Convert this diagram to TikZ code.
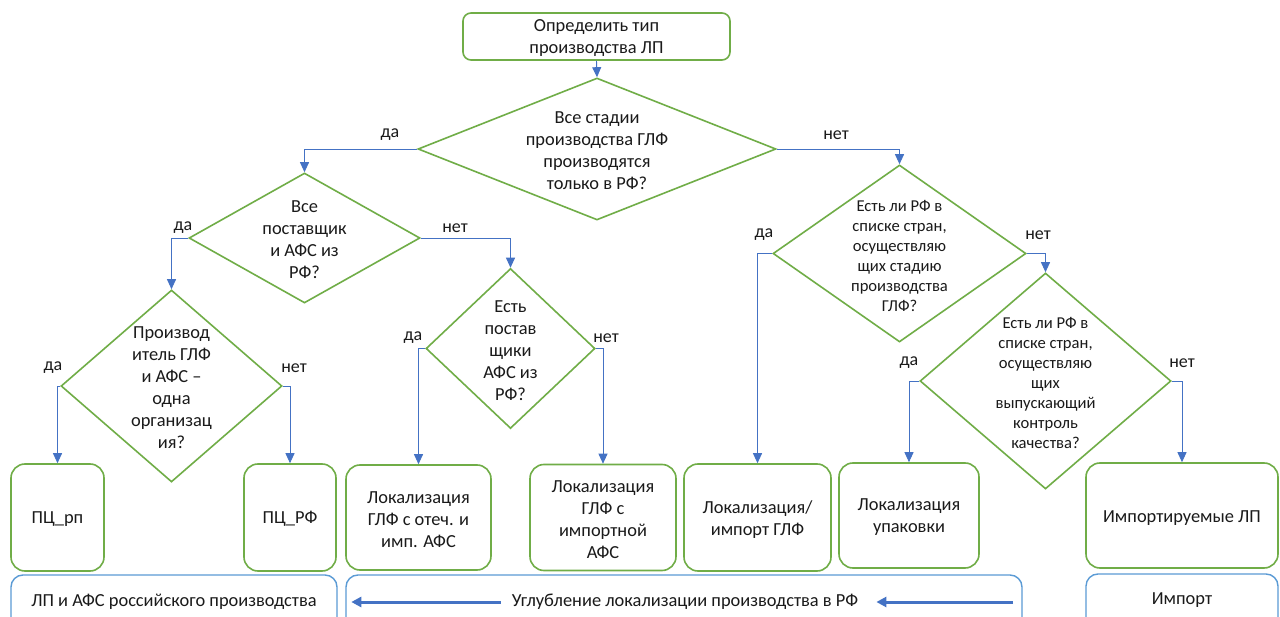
\documentclass[tikz,border=0pt]{standalone}
\usepackage{fontspec}
\setmainfont{Carlito}
\usetikzlibrary{shapes.geometric,arrows.meta}
\definecolor{gr}{HTML}{70AD47}
\definecolor{bl}{HTML}{4472C4}
\definecolor{lb}{HTML}{5B9BD5}
\definecolor{tx}{HTML}{1A1A1A}
\begin{document}
\begin{tikzpicture}[x=1pt,y=-1pt,
  dia/.style={diamond, draw=gr, line width=1.6pt, inner sep=0pt},
  gbox/.style={rectangle, rounded corners=14pt, draw=gr, line width=1.6pt, inner sep=0pt},
  bbox/.style={rectangle, rounded corners=12pt, draw=lb, line width=1.4pt, inner sep=0pt},
  txt/.style={align=center, text=tx, font=\fontsize{18.4}{22}\selectfont, inner sep=0pt},
  stxt/.style={align=center, text=tx, font=\fontsize{16.6}{20}\selectfont, inner sep=0pt},
  lbl/.style={text=tx, font=\fontsize{18}{20}\selectfont, inner sep=0pt},
  conn/.style={draw=bl, line width=0.9pt, -{Triangle[width=9pt,length=10pt]}},
  bigarrow/.style={draw=bl, line width=3pt, -{Triangle[width=10pt,length=10pt]}}
]
\useasboundingbox (0,0) rectangle (1280,617);
\fill[white] (0,0) rectangle (1280,617);
\clip (0,0) rectangle (1280,617);

% top box
\node[gbox, rounded corners=8pt, minimum width=267pt, minimum height=47pt] (top) at (596.5,36.5) {};
\node[txt] (topt) at (596.5,38) {Определить тип\\производства ЛП};

% diamonds
\node[dia, minimum width=358pt, minimum height=142pt] (d1) at (597,149) {};
\node[txt] (d1t) at (597,151) {Все стадии\\производства ГЛФ\\производятся\\только в РФ?};

\node[dia, minimum width=231pt, minimum height=130pt] (d2) at (304.5,238) {};
\node[txt] (d2t) at (304.5,240) {Все\\поставщик\\и АФС из\\РФ?};

\node[dia, minimum width=221pt, minimum height=192pt] (d5) at (171.5,386) {};
\node[txt] (d5t) at (171.5,388) {Производ\\итель ГЛФ\\и АФС --\\одна\\организац\\ия?};

\node[dia, minimum width=169pt, minimum height=160pt] (d6) at (510.5,348.5) {};
\node[txt] (d6t) at (510.5,351) {Есть\\постав\\щики\\АФС из\\РФ?};

\node[dia, minimum width=253pt, minimum height=177pt] (d3) at (899.5,253.5) {};
\node[stxt] (d3t) at (899.5,256) {Есть ли РФ в\\списке стран,\\осуществляю\\щих стадию\\производства\\ГЛФ?};

\node[dia, minimum width=251pt, minimum height=216pt] (d4) at (1045.5,381) {};
\node[stxt] (d4t) at (1045.5,383) {Есть ли РФ в\\списке стран,\\осуществляю\\щих\\выпускающий\\контроль\\качества?};

% result boxes
\node[gbox, minimum width=93pt, minimum height=107pt] (b1) at (57.5,517.5) {};
\node[txt] (b1t) at (57.5,519) {ПЦ\_рп};
\node[gbox, minimum width=92pt, minimum height=107pt] (b2) at (290,517.5) {};
\node[txt] (b2t) at (290,519) {ПЦ\_РФ};
\node[gbox, minimum width=145pt, minimum height=105pt] (b3) at (418.5,517.5) {};
\node[txt] (b3t) at (418.5,520) {Локализация\\ГЛФ с отеч. и\\имп. АФС};
\node[gbox, minimum width=146pt, minimum height=106pt] (b4) at (603,517.5) {};
\node[txt] (b4t) at (603,520) {Локализация\\ГЛФ с\\импортной\\АФС};
\node[gbox, minimum width=147pt, minimum height=107pt] (b5) at (757.5,517.5) {};
\node[txt] (b5t) at (757.5,520) {Локализация/\\импорт ГЛФ};
\node[gbox, minimum width=140pt, minimum height=105pt] (b6) at (909,515.5) {};
\node[txt] (b6t) at (909,517) {Локализация\\упаковки};
\node[gbox, minimum width=192pt, minimum height=105pt] (b7) at (1182,515.5) {};
\node[txt] (b7t) at (1182,518) {Импортируемые ЛП};

% bottom category boxes
\node[bbox, minimum width=326pt, minimum height=80pt] (c1) at (174,615) {};
\node[txt] (c1t) at (174,602) {ЛП и АФС российского производства};
\node[bbox, minimum width=676pt, minimum height=80pt] (c2) at (684,615) {};
\node[txt] (c2t) at (685,602) {Углубление локализации производства в РФ};
\node[bbox, minimum width=192pt, minimum height=82pt] (c3) at (1182,615) {};
\node[txt] (c3t) at (1182,600) {Импорт};

\draw[bigarrow] ([xshift=-11pt]c2t.west) -- ([xshift=6pt]c2.west |- c2t.west);
\coordinate (a2s) at (1013,602);
\draw[bigarrow] (a2s) -- ([xshift=18pt]c2t.east);

% connectors
\draw[conn] (top.south) -- (d1.north);
\draw[conn] (d1.west) -| (d2.north);
\draw[conn] (d1.east) -| (d3.north);
\draw[conn] (d2.west) -| (d5.north);
\draw[conn] (d2.east) -| (d6.north);
\draw[conn] (d5.west) -| (b1.north);
\draw[conn] (d5.east) -| (b2.north);
\draw[conn] (d6.west) -| (b3.north);
\draw[conn] (d6.east) -| (b4.north);
\draw[conn] (d3.west) -| (b5.north);
\draw[conn] (d3.east) -| (d4.north);
\draw[conn] (d4.west) -| (b6.north);
\draw[conn] (d4.east) -| (b7.north);

% labels
\node[lbl] (l1) at (390,135) {да};
\node[lbl] (l2) at (836,135) {нет};
\node[lbl] (l3) at (183,228) {да};
\node[lbl] (l4) at (455,228) {нет};
\node[lbl] (l5) at (53,368) {да};
\node[lbl] (l6) at (294,368) {нет};
\node[lbl] (l7) at (413,338) {да};
\node[lbl] (l8) at (606,338) {нет};
\node[lbl] (l9) at (764,235) {да};
\node[lbl] (l10) at (1038,235) {нет};
\node[lbl] (l11) at (909,363) {да};
\node[lbl] (l12) at (1182,363) {нет};
\end{tikzpicture}
\end{document}
